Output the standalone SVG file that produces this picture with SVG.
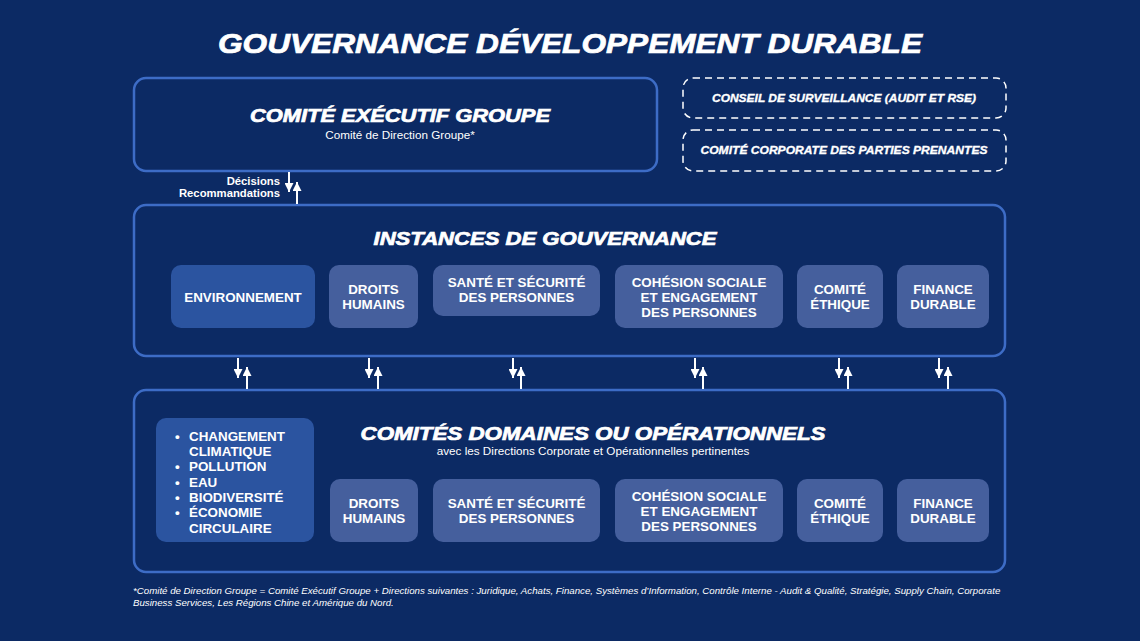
<svg xmlns="http://www.w3.org/2000/svg" width="1140" height="641" viewBox="0 0 1140 641">
<defs>
<marker id="ah" viewBox="0 0 10 10" refX="10" refY="5" markerWidth="9" markerHeight="9" orient="auto" markerUnits="userSpaceOnUse">
<path d="M0,0 L10,5 L0,10 Z" fill="#ffffff"/>
</marker>
<style>
.frame{fill:#0c2a64;stroke:#3d6cc6;stroke-width:2.5}
.dash{fill:none;stroke:#ffffff;stroke-width:1.5;stroke-dasharray:7 5}
.node{fill:#455f9d}
.env{fill:#2b54a0}
.ttl{font-family:"Liberation Sans",Arial,sans-serif;font-weight:bold;font-style:italic;fill:#ffffff;stroke:#ffffff;stroke-width:0.7;text-anchor:middle}
.ttls{font-family:"Liberation Sans",Arial,sans-serif;font-weight:bold;font-style:italic;fill:#ffffff;stroke:#ffffff;stroke-width:0.3;text-anchor:middle}
.lbl{font-family:"Liberation Sans",Arial,sans-serif;font-weight:bold;font-size:13.4px;fill:#ffffff;text-anchor:middle}
.sub{font-family:"Liberation Sans",Arial,sans-serif;font-size:11.7px;fill:#ffffff;text-anchor:middle}
.sm{font-family:"Liberation Sans",Arial,sans-serif;font-weight:bold;font-size:11.3px;fill:#ffffff;text-anchor:end}
.foot{font-family:"Liberation Sans",Arial,sans-serif;font-style:italic;font-size:9.7px;fill:#ffffff}
.arr{stroke:#ffffff;stroke-width:2;fill:none;marker-end:url(#ah)}
</style>
</defs>
<rect x="0" y="0" width="1140" height="641" fill="#0c2a64"/>
<text class="ttl" x="570" y="53" font-size="27" textLength="704" lengthAdjust="spacingAndGlyphs">GOUVERNANCE DÉVELOPPEMENT DURABLE</text>

<g id="comite-executif">
<rect class="frame" x="134" y="78" width="523" height="93" rx="12"/>
<text class="ttl" x="400" y="122" font-size="18" textLength="300" lengthAdjust="spacingAndGlyphs">COMITÉ EXÉCUTIF GROUPE</text>
<text class="sub" x="400" y="139">Comité de Direction Groupe*</text>
</g>

<g id="conseil-surveillance">
<rect class="dash" x="683" y="78" width="323" height="40" rx="10"/>
<text class="ttls" x="844" y="102" font-size="10.5" textLength="264" lengthAdjust="spacingAndGlyphs">CONSEIL DE SURVEILLANCE (AUDIT ET RSE)</text>
</g>

<g id="comite-parties-prenantes">
<rect class="dash" x="683" y="130" width="323" height="41" rx="10"/>
<text class="ttls" x="844" y="154" font-size="10.5" textLength="287" lengthAdjust="spacingAndGlyphs">COMITÉ CORPORATE DES PARTIES PRENANTES</text>
</g>

<g id="instances">
<rect class="frame" x="134" y="205" width="871" height="151" rx="12"/>
<text class="ttl" x="545" y="245" font-size="18" textLength="343" lengthAdjust="spacingAndGlyphs">INSTANCES DE GOUVERNANCE</text>
</g>
<g id="i-environnement">
<rect class="env" x="171" y="265" width="144" height="63" rx="10"/>
<text class="lbl" x="243" y="302">ENVIRONNEMENT</text>
</g>
<g id="i-droits">
<rect class="node" x="329" y="265" width="89" height="63" rx="10"/>
<text class="lbl" x="373.5" y="294">DROITS</text>
<text class="lbl" x="373.5" y="309">HUMAINS</text>
</g>
<g id="i-sante">
<rect class="node" x="433" y="265" width="167" height="51" rx="10"/>
<text class="lbl" x="516.5" y="287">SANTÉ ET SÉCURITÉ</text>
<text class="lbl" x="516.5" y="302">DES PERSONNES</text>
</g>
<g id="i-cohesion">
<rect class="node" x="615" y="265" width="168" height="63" rx="10"/>
<text class="lbl" x="699" y="287">COHÉSION SOCIALE</text>
<text class="lbl" x="699" y="302">ET ENGAGEMENT</text>
<text class="lbl" x="699" y="317">DES PERSONNES</text>
</g>
<g id="i-ethique">
<rect class="node" x="797" y="265" width="86" height="63" rx="10"/>
<text class="lbl" x="840" y="294">COMITÉ</text>
<text class="lbl" x="840" y="309">ÉTHIQUE</text>
</g>
<g id="i-finance">
<rect class="node" x="897" y="265" width="92" height="63" rx="10"/>
<text class="lbl" x="943" y="294">FINANCE</text>
<text class="lbl" x="943" y="309">DURABLE</text>
</g>

<g id="comites-domaines">
<rect class="frame" x="134" y="390" width="871" height="182" rx="12"/>
<text class="ttl" x="593" y="440" font-size="18" textLength="465" lengthAdjust="spacingAndGlyphs">COMITÉS DOMAINES OU OPÉRATIONNELS</text>
<text class="sub" x="593" y="455">avec les Directions Corporate et Opérationnelles pertinentes</text>
</g>
<g id="d-environnement">
<rect class="env" x="156" y="418" width="158" height="124" rx="10"/>
<g font-family="'Liberation Sans',Arial,sans-serif" font-weight="bold" font-size="13.4" fill="#ffffff">
<text x="175" y="441">•</text><text x="189" y="441">CHANGEMENT</text>
<text x="189" y="456">CLIMATIQUE</text>
<text x="175" y="471">•</text><text x="189" y="471">POLLUTION</text>
<text x="175" y="487">•</text><text x="189" y="487">EAU</text>
<text x="175" y="502">•</text><text x="189" y="502">BIODIVERSITÉ</text>
<text x="175" y="517">•</text><text x="189" y="517">ÉCONOMIE</text>
<text x="189" y="533">CIRCULAIRE</text>
</g>
</g>
<g id="d-droits">
<rect class="node" x="330" y="479" width="88" height="63" rx="10"/>
<text class="lbl" x="374" y="508">DROITS</text>
<text class="lbl" x="374" y="523">HUMAINS</text>
</g>
<g id="d-sante">
<rect class="node" x="433" y="479" width="167" height="63" rx="10"/>
<text class="lbl" x="516.5" y="508">SANTÉ ET SÉCURITÉ</text>
<text class="lbl" x="516.5" y="523">DES PERSONNES</text>
</g>
<g id="d-cohesion">
<rect class="node" x="615" y="479" width="168" height="63" rx="10"/>
<text class="lbl" x="699" y="501">COHÉSION SOCIALE</text>
<text class="lbl" x="699" y="516">ET ENGAGEMENT</text>
<text class="lbl" x="699" y="531">DES PERSONNES</text>
</g>
<g id="d-ethique">
<rect class="node" x="797" y="479" width="86" height="63" rx="10"/>
<text class="lbl" x="840" y="508">COMITÉ</text>
<text class="lbl" x="840" y="523">ÉTHIQUE</text>
</g>
<g id="d-finance">
<rect class="node" x="897" y="479" width="92" height="63" rx="10"/>
<text class="lbl" x="943" y="508">FINANCE</text>
<text class="lbl" x="943" y="523">DURABLE</text>
</g>

<g id="connectors">
<line class="arr" x1="289" y1="172" x2="289" y2="192"/>
<line class="arr" x1="297" y1="204" x2="297" y2="182"/>
<text class="sm" x="280" y="185">Décisions</text>
<text class="sm" x="280" y="197">Recommandations</text>
<line class="arr" x1="238" y1="358" x2="238" y2="378"/>
<line class="arr" x1="247" y1="389" x2="247" y2="367"/>
<line class="arr" x1="369" y1="358" x2="369" y2="378"/>
<line class="arr" x1="378" y1="389" x2="378" y2="367"/>
<line class="arr" x1="513" y1="358" x2="513" y2="378"/>
<line class="arr" x1="521" y1="389" x2="521" y2="367"/>
<line class="arr" x1="695" y1="358" x2="695" y2="378"/>
<line class="arr" x1="703" y1="389" x2="703" y2="367"/>
<line class="arr" x1="839" y1="358" x2="839" y2="378"/>
<line class="arr" x1="848" y1="389" x2="848" y2="367"/>
<line class="arr" x1="939" y1="358" x2="939" y2="378"/>
<line class="arr" x1="948" y1="389" x2="948" y2="367"/>
</g>

<text class="foot" x="133" y="594">*Comité de Direction Groupe = Comité Exécutif Groupe + Directions suivantes : Juridique, Achats, Finance, Systèmes d’Information, Contrôle Interne - Audit &amp; Qualité, Stratégie, Supply Chain, Corporate</text>
<text class="foot" x="133" y="606">Business Services, Les Régions Chine et Amérique du Nord.</text>
</svg>
